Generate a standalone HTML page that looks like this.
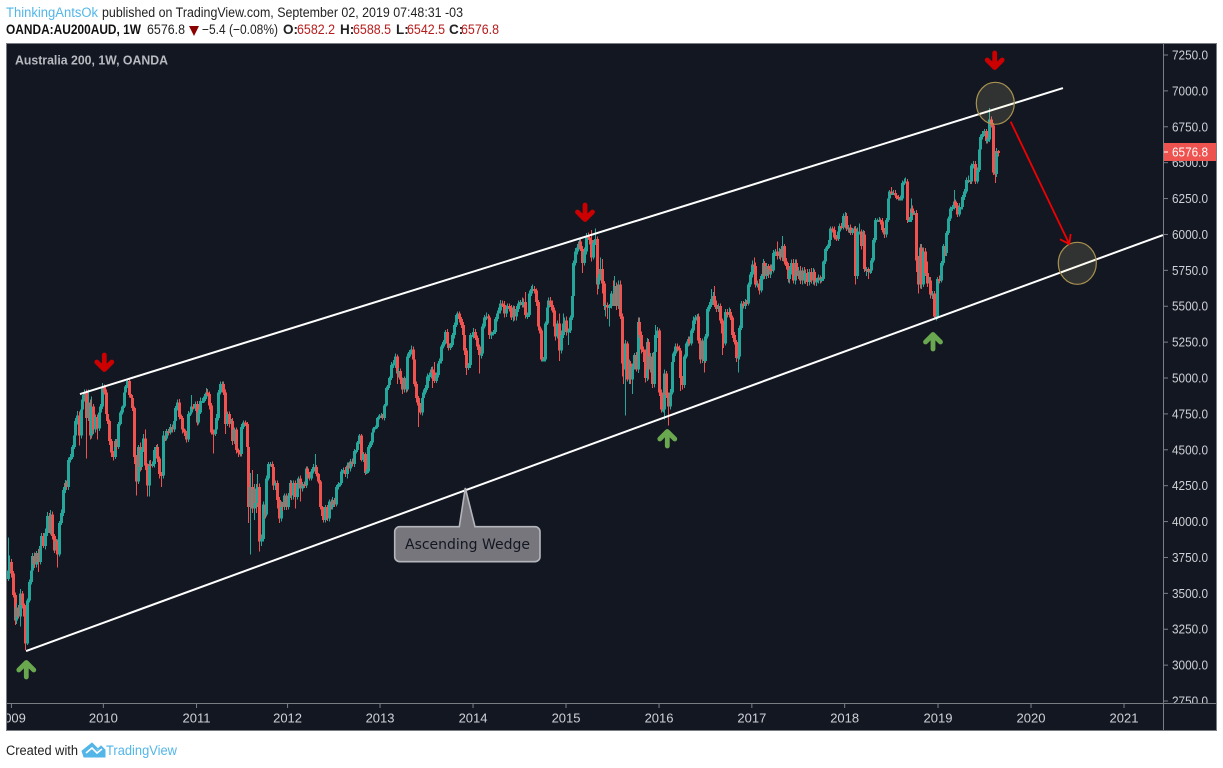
<!DOCTYPE html>
<html lang="en">
<head>
<meta charset="utf-8">
<title>Australia 200, 1W, OANDA</title>
<style>
html,body{margin:0;padding:0;background:#fff;width:1223px;height:768px;overflow:hidden}
svg{display:block;font-family:"Liberation Sans",sans-serif}
</style>
</head>
<body>
<svg id="chart" xmlns="http://www.w3.org/2000/svg" width="1223" height="768" viewBox="0 0 1223 768">
  <defs>
    <clipPath id="plot-clip"><rect x="7" y="44" width="1156" height="659"/></clipPath>
    <clipPath id="price-clip"><rect x="1164" y="44" width="52" height="659"/></clipPath>
    <clipPath id="time-clip"><rect x="7" y="704" width="1156" height="26"/></clipPath>
  </defs>

  <g>
    <text x="6" y="17" font-size="13.5" fill="#53b6e8" textLength="92" lengthAdjust="spacingAndGlyphs">ThinkingAntsOk</text>
    <text x="102" y="17" font-size="13.5" fill="#222" textLength="361" lengthAdjust="spacingAndGlyphs">published on TradingView.com, September 02, 2019 07:48:31 -03</text>
    <text x="6" y="34" font-size="13.5" font-weight="bold" fill="#111" textLength="135" lengthAdjust="spacingAndGlyphs">OANDA:AU200AUD, 1W</text>
    <text x="147" y="34" font-size="13.5" fill="#222" textLength="38" lengthAdjust="spacingAndGlyphs">6576.8</text>
    <polygon points="189,26 199,26 194,36" fill="#8b0000"/>
    <text x="202" y="34" font-size="13.5" fill="#222" textLength="76" lengthAdjust="spacingAndGlyphs">−5.4 (−0.08%)</text>
    <text x="283" y="34" font-size="13.5" font-weight="bold" fill="#222">O:</text>
    <text x="297" y="34" font-size="13.5" fill="#b71c1c" textLength="38" lengthAdjust="spacingAndGlyphs">6582.2</text>
    <text x="340" y="34" font-size="13.5" font-weight="bold" fill="#222">H:</text>
    <text x="353" y="34" font-size="13.5" fill="#b71c1c" textLength="38" lengthAdjust="spacingAndGlyphs">6588.5</text>
    <text x="396" y="34" font-size="13.5" font-weight="bold" fill="#222">L:</text>
    <text x="407" y="34" font-size="13.5" fill="#b71c1c" textLength="38" lengthAdjust="spacingAndGlyphs">6542.5</text>
    <text x="449" y="34" font-size="13.5" font-weight="bold" fill="#222">C:</text>
    <text x="461" y="34" font-size="13.5" fill="#b71c1c" textLength="38" lengthAdjust="spacingAndGlyphs">6576.8</text>
  </g>

  <rect x="6.5" y="43.5" width="1210" height="687" fill="#131722" stroke="#7b7d85" stroke-width="1"/>

  <g id="candles" clip-path="url(#plot-clip)" shape-rendering="crispEdges"></g>
  <g id="trendlines" clip-path="url(#plot-clip)"></g>

  <g>
    <ellipse cx="995.3" cy="103.3" rx="19" ry="21" fill="#fff0a0" fill-opacity="0.13" stroke="#a8924f" stroke-width="1.2"/>
    <ellipse cx="1077.3" cy="263.3" rx="19" ry="21" fill="#fff0a0" fill-opacity="0.13" stroke="#a8924f" stroke-width="1.2"/>
  </g>

  <g fill="none" stroke="#f00000" stroke-width="1.8">
    <line x1="1010.7" y1="121.7" x2="1069.3" y2="244"/>
    <polyline points="1060,239.3 1069.3,244 1070.7,234"/>
  </g>

  <g fill="none" stroke-linecap="round" stroke-linejoin="round" stroke-width="4.8">
    <g stroke="#cc0000" transform="translate(104.3,353)"><path d="M0 2V16M-7.5 9L0 16.5L7.5 9"/></g>
    <g stroke="#cc0000" transform="translate(585,203)"><path d="M0 2V16M-7.5 9L0 16.5L7.5 9"/></g>
    <g stroke="#cc0000" transform="translate(994.7,51)"><path d="M0 2V16M-7.5 9L0 16.5L7.5 9"/></g>
    <g stroke="#6aa84f" transform="translate(26.3,679)"><path d="M0 -2V-16M-7.5 -9L0 -16.5L7.5 -9"/></g>
    <g stroke="#6aa84f" transform="translate(667.3,448)"><path d="M0 -2V-16M-7.5 -9L0 -16.5L7.5 -9"/></g>
    <g stroke="#6aa84f" transform="translate(933,351)"><path d="M0 -2V-16M-7.5 -9L0 -16.5L7.5 -9"/></g>
  </g>

  <g>
    <path d="M399.7 526.7H459.3L465.3 488L475 526.7H535A5 5 0 0 1 540 531.7V556.7A5 5 0 0 1 535 561.7H399.7A5 5 0 0 1 394.7 556.7V531.7A5 5 0 0 1 399.7 526.7Z" fill="#76767c" stroke="#b4b6bc" stroke-width="1.6"/>
    <text x="405" y="549" font-size="14" font-family="'DejaVu Sans',sans-serif" fill="#131722" textLength="125" lengthAdjust="spacingAndGlyphs">Ascending Wedge</text>
  </g>

  <text x="15" y="64.5" font-size="12.5" font-weight="bold" fill="#b8bac0" textLength="153" lengthAdjust="spacingAndGlyphs">Australia 200, 1W, OANDA</text>

  <line x1="1163.5" y1="44" x2="1163.5" y2="730" stroke="#7b7d85"/>
  <line x1="7" y1="703.5" x2="1216" y2="703.5" stroke="#7b7d85"/>
  <g id="price-axis" clip-path="url(#price-clip)"></g>
  <g id="time-axis" clip-path="url(#time-clip)"></g>

  <g>
    <rect x="1164" y="143" width="52" height="18" fill="#ef5350"/>
    <line x1="1164" y1="152" x2="1168" y2="152" stroke="#fff"/>
    <text x="1172" y="156.5" font-size="13" fill="#fff" textLength="36" lengthAdjust="spacingAndGlyphs">6576.8</text>
  </g>

  <g>
    <text x="6" y="755" font-size="13.5" fill="#222" textLength="72" lengthAdjust="spacingAndGlyphs">Created with</text>
    <path d="M82 751L92 743L98 749L101 746L105 750V757H84Z M85 752L92 746L97 751L101 749" fill="#53b6e8" stroke="#53b6e8" stroke-width="1"/>
    <path d="M86 753L92 748L97 753L102 749" fill="none" stroke="#fff" stroke-width="1.6"/>
    <text x="106" y="755" font-size="13.5" fill="#53b6e8" textLength="71" lengthAdjust="spacingAndGlyphs">TradingView</text>
  </g>
</svg>

<script>
const closes = [
3660,3720,3640,3490,3310,3400,3340,3500,3420,3340,3150,3450,3580,3660,3760,3700,3780,3720,3830,3900,
3830,3920,4040,3940,4050,3900,3800,3860,3770,3990,4060,4220,4270,4240,4430,4450,4520,4600,4700,4740,
4600,4780,4850,4900,4720,4830,4600,4800,4640,4730,4650,4760,4800,4940,4900,4750,4700,4560,4480,4450,
4560,4520,4680,4760,4800,4900,4940,4980,4880,4860,4790,4450,4280,4520,4380,4500,4580,4390,4250,4400,
4390,4400,4500,4520,4440,4330,4320,4600,4580,4630,4620,4660,4640,4700,4790,4830,4730,4720,4640,4620,
4570,4750,4760,4800,4790,4820,4690,4760,4840,4840,4870,4900,4890,4810,4620,4610,4640,4720,4900,4960,
4960,4900,4680,4750,4680,4700,4560,4640,4500,4480,4470,4660,4690,4680,4520,4100,4240,4090,4230,4130,
4240,3860,3880,4120,4050,4300,4400,4400,4380,4250,4270,4150,4020,4120,4100,4180,4100,4180,4270,4180,
4270,4170,4260,4300,4230,4260,4250,4370,4330,4300,4350,4380,4380,4330,4280,4100,4040,4010,4100,4020,
4140,4100,4150,4120,4240,4260,4270,4350,4360,4330,4390,4370,4420,4400,4490,4500,4550,4600,4430,4470,
4340,4350,4520,4550,4620,4650,4660,4720,4740,4740,4720,4810,4930,4950,5000,5090,5100,5150,5030,5050,
4990,4920,5000,4920,5150,5180,5200,5130,4960,4860,4810,4760,4860,4900,4930,5010,5020,5060,5040,4980,
5020,5100,5120,5220,5250,5320,5240,5210,5230,5300,5370,5440,5450,5410,5370,5300,5190,5070,5090,5300,
5300,5320,5280,5220,5160,5170,5360,5420,5430,5420,5300,5310,5320,5410,5450,5470,5520,5510,5450,5480,
5500,5490,5420,5480,5430,5480,5520,5530,5510,5530,5440,5440,5590,5620,5620,5610,5530,5360,5330,5130,
5130,5380,5490,5540,5510,5470,5360,5290,5380,5190,5300,5380,5400,5320,5330,5420,5570,5800,5880,5910,
5950,5900,5800,5880,5990,5980,5960,5840,5940,5970,5650,5700,5760,5660,5500,5510,5490,5500,5590,5530,
5640,5500,5650,5430,5100,5060,5240,4990,5100,4990,5080,5160,5060,5390,5300,5200,5180,5000,5250,5060,
5150,4960,5180,5300,5330,4900,4780,4780,5030,4880,4800,4900,5110,5170,5220,5210,5190,5000,4950,5150,
5240,5270,5240,5330,5400,5420,5430,5260,5130,5260,5120,5290,5480,5510,5550,5570,5510,5480,5500,5400,
5310,5240,5460,5440,5460,5420,5300,5250,5140,5150,5350,5520,5500,5530,5520,5650,5720,5790,5780,5650,
5660,5610,5710,5800,5710,5780,5720,5760,5750,5870,5880,5850,5880,5840,5920,5810,5780,5690,5750,5800,
5680,5800,5710,5750,5680,5750,5680,5730,5670,5740,5680,5740,5670,5680,5700,5680,5690,5810,5900,5920,
5960,6040,6030,5980,5970,6020,6060,6050,6130,6130,6040,6050,6010,6030,6040,5710,6020,6020,5920,6000,
5760,5760,5740,5750,5820,5960,6100,6100,6100,6090,6030,6000,6100,6250,6300,6290,6290,6270,6260,6250,
6250,6360,6370,6370,6100,6100,6180,6150,6150,5820,5650,5910,5650,5880,5730,5660,5680,5580,5590,5430,
5430,5690,5680,5800,5920,5870,6010,6110,6180,6190,6230,6200,6140,6190,6190,6260,6300,6380,6380,6370,
6480,6490,6370,6450,6590,6680,6700,6720,6650,6660,6800,6760,6430,6420,6582.2,6576.8
];
const upperWicks = [
230,45,20,15,15,30,20,30,15,10,10,15,15,15,20,25,15,30,25,20,
20,30,25,20,30,20,15,20,15,15,25,20,20,15,15,20,15,20,20,30,
25,30,30,20,20,90,20,70,20,15,15,20,20,25,15,20,10,10,15,10,
15,15,15,15,10,10,10,15,10,10,10,10,15,15,30,15,30,60,15,25,
30,20,20,15,20,15,15,30,20,15,15,20,15,20,15,20,25,15,15,10,
10,20,20,80,20,15,20,20,25,20,20,30,25,15,15,20,15,30,15,15,
15,15,20,15,15,15,20,15,15,10,10,20,15,15,15,15,100,120,30,30,
90,25,30,20,20,20,15,15,20,20,15,15,20,20,15,15,15,20,20,15,
15,15,15,15,20,15,20,15,15,15,15,20,90,15,10,10,10,15,15,15,
15,15,20,15,15,15,15,15,15,20,20,20,15,20,15,15,10,10,10,15,
10,15,15,10,10,10,10,10,10,15,10,10,10,15,10,20,25,20,15,20,
15,15,10,15,20,15,25,20,15,15,15,15,15,20,20,20,20,15,20,70,
20,20,15,15,15,15,20,15,15,15,15,10,15,15,15,20,15,20,15,15,
20,30,20,15,15,15,20,20,25,15,15,15,15,15,15,20,25,20,25,25,
20,20,20,25,20,20,20,15,30,25,70,15,20,20,30,20,15,15,15,15,
15,15,15,20,25,30,20,15,20,70,30,70,20,30,15,15,15,20,25,25,
15,20,20,30,20,25,20,70,20,70,15,25,80,70,15,15,15,15,15,90,
70,25,30,30,20,15,25,15,30,20,20,15,20,30,30,25,20,20,30,20,
25,25,30,70,25,15,20,20,30,20,20,25,15,15,20,20,15,20,15,15,
15,20,20,15,30,20,15,20,20,15,25,15,15,20,70,30,70,30,20,20,
15,15,20,20,30,20,15,20,15,15,15,15,15,20,15,15,20,30,50,25,
20,30,15,30,15,20,15,30,30,20,20,70,25,20,70,15,25,20,25,25,
30,25,25,25,30,20,25,25,30,20,25,25,15,15,20,15,15,10,10,10,
15,15,15,25,15,15,15,20,15,25,20,15,20,15,15,20,30,55,15,30,
25,15,10,15,15,15,15,10,20,10,25,15,15,15,10,30,20,20,15,15,
20,15,20,25,15,20,70,20,15,20,30,25,25,30,25,80,25,25,15,15,
15,15,25,15,15,20,15,15,15,15,80,15,20,30,15,15,15,15,30,15,
15,20,20,15,15,15,20,15,15,15,80,20,15,15,20,6.3
];
const lowerWicks = [
15,30,30,20,30,25,15,70,25,25,45,10,15,20,15,25,20,70,20,20,
15,25,20,20,30,25,20,30,90,15,15,20,20,15,20,20,15,15,20,25,
70,20,15,15,280,20,30,20,30,20,80,20,15,15,15,20,20,25,30,25,
15,20,15,10,15,10,10,10,15,15,20,50,100,20,30,20,15,30,75,75,
20,15,25,20,25,30,80,20,20,15,20,15,20,15,15,15,20,15,25,25,
20,15,15,10,10,20,20,15,10,15,10,15,15,30,15,135,15,15,15,15,
15,20,70,15,25,20,25,20,25,30,15,15,15,15,15,110,330,30,80,70,
30,70,30,20,30,15,15,15,20,30,30,60,30,20,25,20,20,15,15,30,
25,80,15,20,90,20,15,15,30,15,15,15,15,15,15,15,15,15,15,15,
20,15,15,20,15,15,15,15,15,20,30,15,20,15,20,15,15,10,10,15,
15,10,10,10,15,10,10,10,10,10,10,15,10,15,10,15,20,30,70,25,
30,30,20,20,15,10,15,20,20,30,150,15,20,15,15,15,30,25,110,15,
15,15,30,20,15,15,15,20,15,15,25,15,20,25,20,30,30,50,15,20,
15,25,15,25,130,25,15,15,15,15,30,30,15,15,15,15,20,15,30,25,
15,25,15,25,30,30,20,15,20,20,25,30,15,20,20,20,30,20,20,15,
15,15,10,15,15,15,20,30,15,70,20,20,20,25,90,15,15,15,15,20,
15,15,70,15,20,15,30,30,15,15,70,30,20,70,25,70,80,130,15,30,
30,25,20,20,90,100,320,15,30,30,100,20,15,25,20,30,70,30,20,70,
20,30,25,25,20,25,20,20,70,20,130,20,15,15,15,25,30,90,30,20,
15,20,15,15,15,25,15,20,30,25,80,15,15,15,15,20,15,20,20,20,
150,30,15,20,15,15,20,15,30,100,20,15,15,20,15,15,15,20,15,20,
20,30,15,25,20,20,25,25,15,15,20,25,20,20,25,20,25,25,30,30,
20,30,25,20,25,30,20,25,30,25,20,30,25,30,20,20,15,15,15,15,
15,10,15,15,15,15,10,15,15,15,15,25,15,15,15,60,20,20,25,15,
20,50,50,15,20,15,15,15,15,20,15,25,20,15,15,15,15,15,15,15,
15,15,15,15,20,15,15,20,15,80,60,25,30,15,20,25,20,25,30,15,
30,20,20,15,15,20,20,15,15,15,15,15,20,15,15,15,20,15,20,20,
20,20,20,15,15,20,20,15,15,15,15,15,15,60,20,34.3
];
const firstOpen = 3600;
const priceTickLabels = ["7250.0","7000.0","6750.0","6500.0","6250.0","6000.0","5750.0","5500.0","5250.0","5000.0","4750.0","4500.0","4250.0","4000.0","3750.0","3500.0","3250.0","3000.0","2750.0"];
const yearLabels = ["2009","2010","2011","2012","2013","2014","2015","2016","2017","2018","2019","2020","2021"];
const yearWeeks = [2.2,53.7,105.9,156.9,208.7,260.8,312.9,365,417,469,521.3,573.4,625.5];
const upperLineWeeks = [40.6,591.3];
const upperLinePrices = [4888,7020];
const lowerLineWeeks = [10.4,647.3];
const lowerLinePrices = [3098,5996];

const svgNS = "http://www.w3.org/2000/svg";
function xOfWeek(w){ return 7.5 + 1.785 * w; }
function yOfPrice(p){ return 55 + (7250 - p) * 0.14356; }
function make(tag, attrs){
  const el = document.createElementNS(svgNS, tag);
  for (const k in attrs) el.setAttribute(k, attrs[k]);
  return el;
}

const candleGroup = document.getElementById("candles");
closes.forEach(function(close, i){
  const open = i === 0 ? firstOpen : closes[i - 1];
  const color = close >= open ? "#26a69a" : "#ef5350";
  const top = Math.max(open, close), bottom = Math.min(open, close);
  const x = Math.round(xOfWeek(i));
  const wick = make("rect", {
    x: x, width: 1,
    y: yOfPrice(top + upperWicks[i]),
    height: yOfPrice(bottom - lowerWicks[i]) - yOfPrice(top + upperWicks[i]),
    fill: color
  });
  
  
  candleGroup.appendChild(wick);
  const body = make("rect", {
    x: x - 1, width: 3,
    y: yOfPrice(top),
    height: Math.max(2, yOfPrice(bottom) - yOfPrice(top)),
    fill: color
  });
  
  
  candleGroup.appendChild(body);
});

const trendGroup = document.getElementById("trendlines");
const upperLine = make("line", {
  x1: xOfWeek(upperLineWeeks[0]), y1: yOfPrice(upperLinePrices[0]),
  x2: xOfWeek(upperLineWeeks[1]), y2: yOfPrice(upperLinePrices[1]),
  stroke: "#ffffff", "stroke-width": 2
});


trendGroup.appendChild(upperLine);
const lowerLine = make("line", {
  x1: xOfWeek(lowerLineWeeks[0]), y1: yOfPrice(lowerLinePrices[0]),
  x2: xOfWeek(lowerLineWeeks[1]), y2: yOfPrice(lowerLinePrices[1]),
  stroke: "#ffffff", "stroke-width": 2
});


trendGroup.appendChild(lowerLine);

const priceAxis = document.getElementById("price-axis");
priceTickLabels.forEach(function(label){
  const y = yOfPrice(parseFloat(label));
  const tick = make("line", { x1: 1164, x2: 1168, y1: y, y2: y, stroke: "#7b7d85" });
  
  
  priceAxis.appendChild(tick);
  const text = make("text", { x: 1172, y: y + 4.5, "font-size": 13, fill: "#cfd1d6", textLength: 36, lengthAdjust: "spacingAndGlyphs" });
  
  
  text.textContent = label;
  priceAxis.appendChild(text);
});

const timeAxis = document.getElementById("time-axis");
yearLabels.forEach(function(label, i){
  const x = xOfWeek(yearWeeks[i]);
  const tick = make("line", { x1: x, x2: x, y1: 704, y2: 708, stroke: "#7b7d85" });
  
  
  timeAxis.appendChild(tick);
  const text = make("text", { x: x, y: 722.5, "font-size": 13, fill: "#cfd1d6", "text-anchor": "middle" });
  
  
  text.textContent = label;
  timeAxis.appendChild(text);
});
</script>
</body>
</html>
